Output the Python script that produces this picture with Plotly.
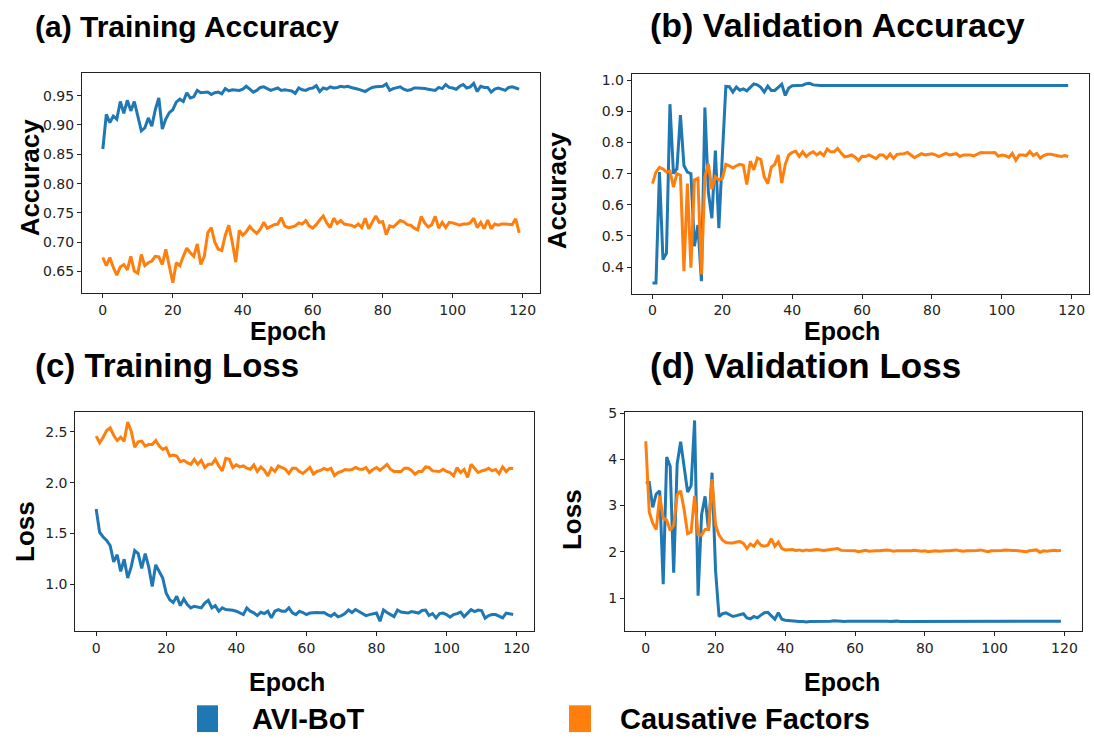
import plotly.graph_objects as go

epochs = list(range(120))

# (a) Training accuracy
train_acc_avi = [0.859, 0.918, 0.904, 0.915, 0.91, 0.94, 0.92, 0.942, 0.924, 0.94,
                 0.915, 0.89, 0.895, 0.912, 0.898, 0.926, 0.946, 0.893, 0.91, 0.921,
                 0.926, 0.939, 0.944, 0.94, 0.955, 0.946, 0.948, 0.959, 0.955, 0.956,
                 0.956, 0.952, 0.955, 0.956, 0.953, 0.962, 0.958, 0.960, 0.959, 0.959,
                 0.961, 0.966, 0.961, 0.956, 0.959, 0.964, 0.965, 0.962, 0.959, 0.961,
                 0.963, 0.959, 0.960, 0.959, 0.958, 0.954, 0.963, 0.960, 0.959, 0.962,
                 0.963, 0.967, 0.957, 0.963, 0.961, 0.965, 0.963, 0.964, 0.966, 0.965,
                 0.966, 0.964, 0.963, 0.961, 0.959, 0.957, 0.961, 0.964, 0.965, 0.965,
                 0.966, 0.970, 0.959, 0.962, 0.964, 0.965, 0.961, 0.959, 0.960, 0.963,
                 0.963, 0.963, 0.962, 0.961, 0.960, 0.959, 0.964, 0.962, 0.969, 0.964,
                 0.963, 0.961, 0.966, 0.969, 0.963, 0.965, 0.971, 0.957, 0.966, 0.964,
                 0.964, 0.956, 0.961, 0.963, 0.961, 0.959, 0.964, 0.965, 0.963, 0.961]
train_acc_cf = [0.674, 0.66, 0.674, 0.657, 0.644, 0.658, 0.662, 0.653, 0.676, 0.651,
                0.647, 0.679, 0.66, 0.665, 0.668, 0.676, 0.675, 0.662, 0.688, 0.657,
                0.631, 0.665, 0.66, 0.676, 0.69, 0.682, 0.676, 0.697, 0.662, 0.676,
                0.716, 0.725, 0.70, 0.688, 0.686, 0.712, 0.729, 0.70, 0.666, 0.72,
                0.712, 0.718, 0.727, 0.72, 0.715, 0.722, 0.734, 0.724, 0.727, 0.73,
                0.731, 0.742, 0.728, 0.725, 0.726, 0.728, 0.733, 0.731, 0.737, 0.728,
                0.724, 0.730, 0.738, 0.745, 0.733, 0.725, 0.741, 0.732, 0.737, 0.731,
                0.730, 0.729, 0.726, 0.731, 0.725, 0.741, 0.723, 0.735, 0.745, 0.734,
                0.735, 0.713, 0.728, 0.726, 0.731, 0.737, 0.735, 0.73, 0.729, 0.724,
                0.721, 0.744, 0.733, 0.726, 0.730, 0.744, 0.724, 0.734, 0.725, 0.734,
                0.733, 0.731, 0.729, 0.731, 0.731, 0.733, 0.741, 0.725, 0.734, 0.723,
                0.738, 0.723, 0.731, 0.729, 0.731, 0.731, 0.730, 0.730, 0.740, 0.716]

# (b) Validation accuracy
val_acc_avi = [0.349, 0.349, 0.705, 0.424, 0.445, 0.923, 0.70, 0.716, 0.888, 0.726,
               0.705, 0.70, 0.467, 0.535, 0.355, 0.912, 0.64, 0.557, 0.774, 0.525,
               0.76, 0.98, 0.979, 0.962, 0.978, 0.968, 0.972, 0.966, 0.977, 0.988,
               0.985, 0.977, 0.962, 0.981, 0.967, 0.967, 0.977, 0.987, 0.951, 0.975,
               0.982, 0.983, 0.983, 0.984, 0.989, 0.99, 0.985] + [0.983] * 73
val_acc_cf = [0.668, 0.705, 0.72, 0.715, 0.705, 0.708, 0.657, 0.70, 0.695, 0.387,
              0.668, 0.398, 0.68, 0.685, 0.376, 0.69, 0.732, 0.65, 0.69, 0.68,
              0.685, 0.73, 0.725, 0.718, 0.725, 0.73, 0.727, 0.665, 0.74, 0.712,
              0.75, 0.745, 0.69, 0.668, 0.72, 0.73, 0.76, 0.67, 0.73, 0.76,
              0.768, 0.772, 0.755, 0.77, 0.755, 0.765, 0.77, 0.76, 0.768, 0.758,
              0.779, 0.77, 0.77, 0.781, 0.766, 0.754, 0.756, 0.76, 0.753, 0.742,
              0.756, 0.755, 0.76, 0.755, 0.748, 0.76, 0.76, 0.749, 0.763, 0.749,
              0.762, 0.763, 0.764, 0.768, 0.758, 0.751, 0.758, 0.764, 0.76, 0.762,
              0.764, 0.76, 0.755, 0.76, 0.765, 0.76, 0.762, 0.764, 0.755, 0.76,
              0.76, 0.76, 0.757, 0.762, 0.768, 0.767, 0.766, 0.767, 0.768, 0.756,
              0.76, 0.758, 0.752, 0.765, 0.743, 0.76, 0.76, 0.758, 0.771, 0.758,
              0.765, 0.75, 0.758, 0.762, 0.762, 0.76, 0.758, 0.755, 0.758, 0.755]

# (c) Training loss
train_loss_avi = [1.74, 1.51, 1.465, 1.43, 1.38, 1.22, 1.29, 1.125, 1.245, 1.06,
                  1.17, 1.33, 1.30, 1.155, 1.30, 1.17, 0.977, 1.19, 1.125, 1.06,
                  0.91, 0.847, 0.82, 0.88, 0.788, 0.853, 0.798, 0.766, 0.782, 0.775,
                  0.766, 0.814, 0.84, 0.766, 0.788, 0.733, 0.766, 0.749, 0.749, 0.743,
                  0.733, 0.717, 0.70, 0.766, 0.733, 0.717, 0.69, 0.723, 0.71, 0.733,
                  0.668, 0.733, 0.749, 0.733, 0.733, 0.766, 0.717, 0.70, 0.733, 0.72,
                  0.70, 0.715, 0.72, 0.72, 0.717, 0.72, 0.70, 0.684, 0.71, 0.678,
                  0.69, 0.71, 0.745, 0.72, 0.75, 0.73, 0.71, 0.69, 0.70, 0.71,
                  0.715, 0.635, 0.745, 0.72, 0.70, 0.68, 0.745, 0.725, 0.72, 0.715,
                  0.73, 0.725, 0.715, 0.74, 0.745, 0.69, 0.71, 0.668, 0.71, 0.715,
                  0.70, 0.675, 0.70, 0.71, 0.725, 0.68, 0.72, 0.749, 0.73, 0.745,
                  0.74, 0.665, 0.69, 0.70, 0.70, 0.684, 0.668, 0.715, 0.71, 0.70]
train_loss_cf = [2.458, 2.393, 2.448, 2.513, 2.54, 2.467, 2.415, 2.448, 2.409, 2.598,
                 2.507, 2.35, 2.402, 2.409, 2.36, 2.376, 2.376, 2.415, 2.36, 2.328,
                 2.344, 2.262, 2.272, 2.262, 2.207, 2.22, 2.197, 2.181, 2.23, 2.181,
                 2.22, 2.149, 2.181, 2.181, 2.23, 2.165, 2.116, 2.24, 2.23, 2.149,
                 2.175, 2.155, 2.165, 2.142, 2.132, 2.175, 2.11, 2.155, 2.122, 2.067,
                 2.142, 2.11, 2.165, 2.149, 2.132, 2.09, 2.142, 2.142, 2.11, 2.09,
                 2.12, 2.15, 2.085, 2.11, 2.12, 2.14, 2.125, 2.142, 2.07, 2.10,
                 2.11, 2.13, 2.125, 2.13, 2.149, 2.135, 2.13, 2.149, 2.10, 2.13,
                 2.149, 2.122, 2.15, 2.18, 2.132, 2.11, 2.11, 2.11, 2.142, 2.142,
                 2.12, 2.083, 2.11, 2.11, 2.155, 2.15, 2.116, 2.11, 2.11, 2.132,
                 2.11, 2.10, 2.067, 2.149, 2.10, 2.13, 2.051, 2.181, 2.14, 2.10,
                 2.116, 2.125, 2.142, 2.116, 2.13, 2.09, 2.155, 2.11, 2.142, 2.14]

# (d) Validation loss
val_loss_avi = [3.5, 3.5, 2.96, 3.25, 3.32, 1.30, 4.05, 3.85, 1.55, 3.9,
                4.38, 3.85, 3.29, 3.43, 4.84, 1.05, 2.8, 3.2, 2.45, 3.71,
                1.6, 0.6, 0.66, 0.68, 0.64, 0.60, 0.62, 0.64, 0.66, 0.57,
                0.55, 0.60, 0.57, 0.63, 0.68, 0.69, 0.62, 0.54, 0.68, 0.54,
                0.52, 0.51, 0.50, 0.50, 0.49, 0.49, 0.48, 0.49, 0.49, 0.50,
                0.50, 0.49, 0.50, 0.50, 0.51, 0.50, 0.50, 0.49, 0.50, 0.50,
                0.50, 0.51, 0.50, 0.50, 0.50, 0.50, 0.51, 0.50, 0.50, 0.50,
                0.49, 0.50, 0.50, 0.49, 0.49, 0.50, 0.50, 0.50, 0.49, 0.50,
                0.50, 0.50, 0.49, 0.50, 0.50, 0.50, 0.50, 0.49, 0.50, 0.50,
                0.50, 0.50, 0.50, 0.49, 0.50, 0.50, 0.50, 0.50, 0.49, 0.50,
                0.50, 0.50, 0.50, 0.50, 0.50, 0.49, 0.50, 0.50, 0.50, 0.50,
                0.50, 0.50, 0.50, 0.49, 0.50, 0.50, 0.50, 0.50, 0.50, 0.50]
val_loss_cf = [4.39, 2.86, 2.62, 2.48, 3.21, 2.73, 2.68, 2.46, 2.57, 3.23,
               3.32, 2.91, 2.39, 2.43, 3.21, 2.37, 2.36, 2.48, 2.48, 3.57,
               2.58, 2.36, 2.25, 2.20, 2.19, 2.19, 2.21, 2.22, 2.18, 2.07,
               2.17, 2.12, 2.23, 2.14, 2.12, 2.14, 2.28, 2.12, 2.21, 2.07,
               2.04, 2.04, 2.05, 2.03, 2.04, 2.02, 2.04, 2.03, 2.04, 2.05,
               2.04, 2.03, 2.04, 2.05, 2.05, 2.07, 2.03, 2.03, 2.02, 2.03,
               2.02, 2.0, 2.02, 2.03, 2.01, 2.02, 2.02, 2.02, 2.03, 2.04,
               2.03, 2.01, 2.02, 2.02, 2.01, 2.02, 2.02, 2.03, 2.02, 2.01,
               2.02, 2.0, 2.01, 2.02, 2.01, 2.02, 2.02, 2.02, 2.03, 2.04,
               2.02, 2.01, 2.02, 2.02, 2.03, 2.03, 2.04, 2.02, 2.0, 2.02,
               2.02, 2.03, 2.03, 2.04, 2.03, 2.03, 2.03, 2.02, 2.01, 2.0,
               2.02, 2.03, 2.04, 1.99, 2.02, 2.01, 2.02, 2.03, 2.02, 2.03]

x_ticks = [0, 20, 40, 60, 80, 100, 120]
series_names = ["AVI-BoT", "Causative Factors"]
panel_titles = ["(a) Training Accuracy", "(b) Validation Accuracy",
                "(c) Training Loss", "(d) Validation Loss"]

BLUE = "#1f77b4"
ORANGE = "#ff7f0e"
W, H = 1094, 738

def px_x(p):
    return p / W

def px_y(p):
    return 1 - p / H

panels = [
    (train_acc_avi, train_acc_cf, (82, 540), (67, 289), (0.613, 0.988),
     [0.65, 0.70, 0.75, 0.80, 0.85, 0.90, 0.95], ".2f"),
    (val_acc_avi, val_acc_cf, (631.7, 1089), (67.3, 289.3), (0.315, 1.021),
     [0.4, 0.5, 0.6, 0.7, 0.8, 0.9, 1.0], ".1f"),
    (train_loss_avi, train_loss_cf, (75.3, 534), (409, 630), (0.538, 2.695),
     [1.0, 1.5, 2.0, 2.5], ".1f"),
    (val_loss_avi, val_loss_cf, (625, 1081.7), (409, 630), (0.286, 5.02),
     [1, 2, 3, 4, 5], "d"),
]

fig = go.Figure()
tick_font = dict(family="DejaVu Sans", size=14, color="#222222")

for i, (yb, yo, xr, yr, yrange, yt, fmt) in enumerate(panels):
    k = "" if i == 0 else str(i + 1)
    xa, ya = "x" + k, "y" + k
    fig.add_trace(go.Scatter(x=epochs, y=yb, mode="lines", name=series_names[0],
                             line=dict(color=BLUE, width=3), xaxis=xa, yaxis=ya,
                             showlegend=False))
    fig.add_trace(go.Scatter(x=epochs, y=yo, mode="lines", name=series_names[1],
                             line=dict(color=ORANGE, width=3), xaxis=xa, yaxis=ya,
                             showlegend=False))
    fig.layout["xaxis" + k] = dict(
        domain=[px_x(xr[0]), px_x(xr[1])], anchor=ya, range=[-5.95, 124.95],
        tickvals=x_ticks, ticks="outside", ticklen=4, tickwidth=1, tickcolor="#222",
        showline=True, linecolor="#222", linewidth=1, mirror=True,
        showgrid=False, zeroline=False, tickfont=tick_font)
    fig.layout["yaxis" + k] = dict(
        domain=[px_y(yr[1]), px_y(yr[0])], anchor=xa, range=list(yrange),
        tickvals=yt, tickformat=fmt, ticks="outside", ticklen=4, tickwidth=1,
        tickcolor="#222", showline=True, linecolor="#222", linewidth=1, mirror=True,
        showgrid=False, zeroline=False, tickfont=tick_font)

BOLD = "Liberation Sans"
annotations = []
# panel titles
title_pos = [(33, 20, 30), (648, 18, 34), (33, 362, 33), (648, 362, 35)]
for t, (x, y, s) in zip(panel_titles, title_pos):
    annotations.append(dict(text="<b>" + t + "</b>", x=px_x(x), y=px_y(y),
                            xref="paper", yref="paper", xanchor="left", yanchor="middle",
                            showarrow=False, font=dict(family=BOLD, size=s, color="black")))
# y axis titles
ylab = [("Accuracy", 30, 172), ("Accuracy", 557, 185), ("Loss", 25, 530), ("Loss", 572, 518)]
for t, x, y in ylab:
    annotations.append(dict(text="<b>" + t + "</b>", x=px_x(x), y=px_y(y),
                            xref="paper", yref="paper", xanchor="center", yanchor="middle",
                            textangle=-90, showarrow=False,
                            font=dict(family=BOLD, size=26, color="black")))
# x axis titles
for x, y in [(288, 327), (842, 327), (287, 681), (842, 681)]:
    annotations.append(dict(text="<b>Epoch</b>", x=px_x(x), y=px_y(y),
                            xref="paper", yref="paper", xanchor="center", yanchor="middle",
                            showarrow=False, font=dict(family=BOLD, size=25, color="black")))
# legend
shapes = []
for (x0, x1), col, name, tx in [((197, 218), BLUE, series_names[0], 250),
                                ((569, 591), ORANGE, series_names[1], 618)]:
    shapes.append(dict(type="rect", xref="paper", yref="paper",
                       x0=px_x(x0), x1=px_x(x1), y0=px_y(732), y1=px_y(705),
                       fillcolor=col, line=dict(width=0)))
    annotations.append(dict(text="<b>" + name + "</b>", x=px_x(tx), y=px_y(719),
                            xref="paper", yref="paper", xanchor="left", yanchor="middle",
                            showarrow=False, font=dict(family=BOLD, size=29, color="black")))

fig.update_layout(width=W, height=H, autosize=False,
                  margin=dict(l=0, r=0, t=0, b=0),
                  paper_bgcolor="white", plot_bgcolor="white",
                  annotations=annotations, shapes=shapes)

fig.write_html("out.html", config={"displayModeBar": False},
               post_script="document.body.style.margin='0';document.body.style.overflow='hidden';")
